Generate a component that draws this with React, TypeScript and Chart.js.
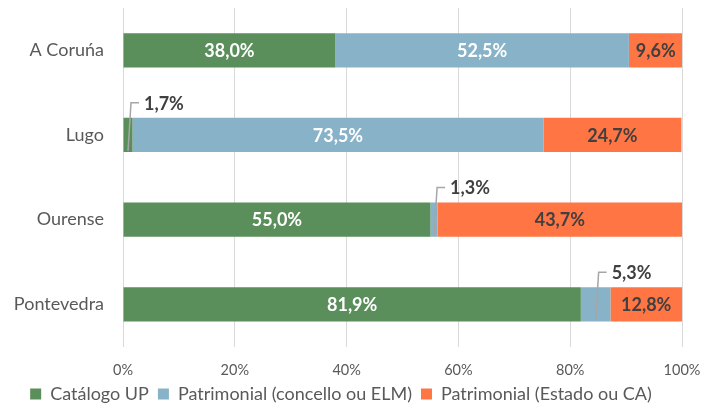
import React, { useEffect, useRef } from "react";
import { Chart, registerables } from "chart.js";

Chart.register(...registerables);

const categories = ["A Coruńa", "Lugo", "Ourense", "Pontevedra"];
const seriesNames = ["Catálogo UP", "Patrimonial (concello ou ELM)", "Patrimonial (Estado ou CA)"];
const catalogoUP = [38.0, 1.7, 55.0, 81.9];
const patrimonialConcello = [52.5, 73.5, 1.3, 5.3];
const patrimonialEstado = [9.6, 24.7, 43.7, 12.8];
const xTicks = [0, 20, 40, 60, 80, 100];

const COLORS = ["#5A8E5A", "#87B2C7", "#FF7544"];
const LABEL_COLORS = ["#FFFFFF", "#FFFFFF", "#404040"];
const FONT = "Lato";

const fmt = (v: number) => v.toFixed(1).replace(".", ",") + "%";

const labelPlugin = {
  id: "barLabels",
  afterDatasetsDraw(chart: any) {
    const ctx = chart.ctx;
    ctx.save();
    ctx.font = `bold 18px ${FONT}`;
    chart.data.datasets.forEach((ds: any, di: number) => {
      const meta = chart.getDatasetMeta(di);
      meta.data.forEach((el: any, j: number) => {
        const v = ds.data[j];
        const x0 = Math.min(el.x, el.base);
        const x1 = Math.max(el.x, el.base);
        const cx = (x0 + x1) / 2;
        const h = el.height;
        const top = el.y - h / 2;
        const bottom = el.y + h / 2;
        if (v >= 6) {
          ctx.fillStyle = LABEL_COLORS[di];
          ctx.textAlign = "center";
          ctx.textBaseline = "middle";
          ctx.fillText(fmt(v), cx, el.y + 1);
        } else {
          const ly = top - 15;
          ctx.strokeStyle = "#A6A6A6";
          ctx.lineWidth = 1.5;
          ctx.beginPath();
          ctx.moveTo(cx, bottom - 1);
          ctx.lineTo(cx + 3, ly);
          ctx.lineTo(cx + 11, ly);
          ctx.stroke();
          ctx.fillStyle = "#404040";
          ctx.textAlign = "left";
          ctx.textBaseline = "middle";
          ctx.fillText(fmt(v), cx + 16, ly + 1);
        }
      });
    });
    ctx.restore();
  },
};

export default function App() {
  const ref = useRef<HTMLCanvasElement | null>(null);
  useEffect(() => {
    if (!ref.current) return;
    const seriesData = [catalogoUP, patrimonialConcello, patrimonialEstado];
    const chart = new Chart(ref.current, {
      type: "bar",
      data: {
        labels: categories,
        datasets: seriesNames.map((name, i) => ({
          label: name,
          data: seriesData[i],
          backgroundColor: COLORS[i],
          borderWidth: 0,
          barPercentage: 1,
          categoryPercentage: 0.405,
        })),
      },
      options: {
        indexAxis: "y",
        animation: false,
        responsive: true,
        maintainAspectRatio: false,
        layout: { padding: { left: 0, right: 39, top: 8, bottom: -6 } },
        scales: {
          x: {
            stacked: true,
            min: 0,
            max: 100,
            afterBuildTicks: (scale: any) => {
              scale.ticks = xTicks.map((v) => ({ value: v }));
            },
            afterFit: (scale: any) => {
              scale.height = 29.4;
            },
            ticks: {
              callback: (v: any) => v + "%",
              color: "#595959",
              font: { family: FONT, size: 14.5 },
              padding: 15,
            },
            grid: { color: "#D9D9D9", lineWidth: 1, drawTicks: false },
            border: { display: false },
          },
          y: {
            stacked: true,
            afterFit: (scale: any) => {
              scale.width = 123;
              scale.paddingTop = 0;
              scale.paddingBottom = 0;
            },
            ticks: {
              color: "#595959",
              font: { family: FONT, size: 18 },
              padding: 19,
            },
            grid: { display: false, drawTicks: false },
            border: { display: false },
          },
        },
        plugins: {
          legend: {
            position: "bottom",
            labels: {
              boxWidth: 11,
              boxHeight: 11,
              color: "#595959",
              font: { family: FONT, size: 18 },
              padding: 9,
            },
          },
          tooltip: { enabled: false },
        },
      },
      plugins: [labelPlugin],
    } as any);
    return () => chart.destroy();
  }, []);
  return (
    <div style={{ position: "absolute", left: 0, top: 0, width: 721, height: 407 }}>
      <canvas ref={ref} />
    </div>
  );
}
